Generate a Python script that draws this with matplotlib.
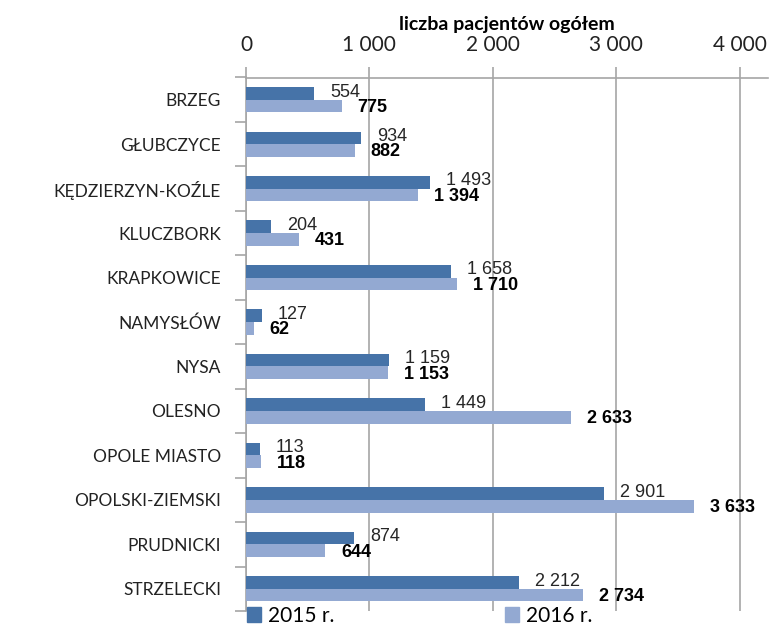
import matplotlib.pyplot as plt
import matplotlib.patches as mpatches
import numpy as np

# data
powiaty = ["BRZEG", "GŁUBCZYCE", "KĘDZIERZYN-KOŹLE", "KLUCZBORK", "KRAPKOWICE",
           "NAMYSŁÓW", "NYSA", "OLESNO", "OPOLE MIASTO", "OPOLSKI-ZIEMSKI",
           "PRUDNICKI", "STRZELECKI"]
pacjenci_2015 = [554, 934, 1493, 204, 1658, 127, 1159, 1449, 113, 2901, 874, 2212]
pacjenci_2016 = [775, 882, 1394, 431, 1710, 62, 1153, 2633, 118, 3633, 644, 2734]
x_ticks = [0, 1000, 2000, 3000, 4000]
x_ticklabels = ["0", "1 000", "2 000", "3 000", "4 000"]
legend_labels = ["2015 r.", "2016 r."]

COLOR_2015 = "#4673a8"
COLOR_2016 = "#93a9d2"
GRID = "#a6a6a6"


def fmt(v):
    """thousands separated by a space"""
    return f"{v:,}".replace(",", " ")


fig = plt.figure(figsize=(7.72, 6.28), dpi=100)
ax = fig.add_axes([246 / 772, 1 - 611 / 628, 522 / 772, 533.5 / 628])

y = np.arange(len(powiaty))
h = 0.285
ax.barh(y - h / 2, pacjenci_2015, height=h, color=COLOR_2015, zorder=3)
ax.barh(y + h / 2, pacjenci_2016, height=h, color=COLOR_2016, zorder=3)

for i, (a, b) in enumerate(zip(pacjenci_2015, pacjenci_2016)):
    ax.annotate(fmt(a), (a, i - h / 2), xytext=(11.5, 1), textcoords="offset points",
                va="center", ha="left", fontsize=13, family="Liberation Sans",
                color="#262626", zorder=4)
    ax.annotate(fmt(b), (b, i + h / 2), xytext=(11.5, -1), textcoords="offset points",
                va="center", ha="left", fontsize=13, family="Liberation Sans",
                fontweight="bold", color="black", zorder=4)

ax.set_xlim(0, 4230)
ax.set_ylim(11.5, -0.5)

# top axis
ax.xaxis.tick_top()
ax.xaxis.set_label_position("top")
ax.set_xticks(x_ticks)
ax.set_xticklabels(x_ticklabels, family="Lato", fontsize=15, color="#222222")
ax.tick_params(axis="x", length=8, color=GRID, width=1.2, pad=8)
ax.set_xlabel("liczba pacjentów ogółem", family="Lato", fontweight="bold",
              fontsize=14, labelpad=4)
ax.grid(axis="x", color=GRID, linewidth=1.2, zorder=0)

# categories
ax.set_yticks(y)
ax.set_yticklabels(powiaty, family="Lato", fontsize=12.5, color="#222222")
ax.set_yticks(np.arange(-0.5, 12, 1), minor=True)
ax.tick_params(axis="y", which="major", length=0, pad=18)
ax.tick_params(axis="y", which="minor", length=8, color=GRID, width=1.2)

for side in ["right", "bottom"]:
    ax.spines[side].set_visible(False)
ax.spines["top"].set_color(GRID)
ax.spines["top"].set_linewidth(1.2)
ax.spines["left"].set_color(GRID)
ax.spines["left"].set_linewidth(1.2)

handles = [mpatches.Patch(color=COLOR_2015), mpatches.Patch(color=COLOR_2016)]
fig.legend(handles, legend_labels, loc="lower left", bbox_to_anchor=(228 / 772, -0.026),
           ncol=2, frameon=False, prop={"family": "Lato", "size": 15},
           handlelength=0.7, handleheight=0.7, handletextpad=0.3, columnspacing=8.2)

fig.savefig("out.png", dpi=100)
